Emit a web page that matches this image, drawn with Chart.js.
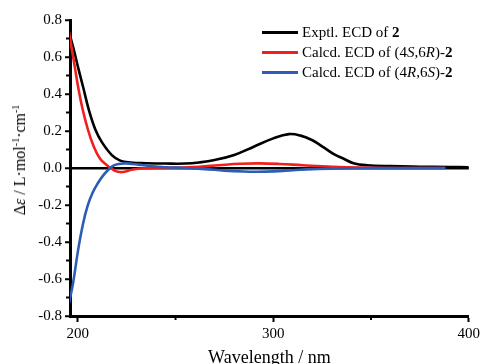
<!DOCTYPE html>
<html lang="en">
<head>
  <meta charset="UTF-8">
  <title>ECD spectra of 2</title>
  <script src="https://cdn.jsdelivr.net/npm/chart.js"></script>
  <style>
    html, body { margin: 0; padding: 0; background: #fff; }
    .wrap { position: relative; width: 483px; height: 364px; overflow: hidden; }
    .legend { position: absolute; left: 262px; top: 22px; font-family: "Liberation Serif", serif; font-size: 15px; color: #000; }
    .legend .row { display: flex; align-items: center; height: 20px; white-space: nowrap; }
    .legend .swatch { width: 36px; height: 3px; margin-right: 4px; }
    .ytitle {
      position: absolute; left: 20px; top: 160px;
      transform: translate(-50%, -50%) rotate(-90deg);
      font-family: "Liberation Serif", serif; font-size: 16px; white-space: nowrap; color: #000;
    }
    .ytitle sup { font-size: 10px; vertical-align: 6px; line-height: 0; }
  </style>
</head>
<body>
  <div class="wrap">
    <canvas id="ecd" width="483" height="364"></canvas>
    <div class="ytitle">&Delta;<i>&epsilon;</i> / L&middot;mol<sup>-1</sup>&middot;cm<sup>-1</sup></div>
    <div class="legend" id="legend"></div>
  </div>
  <script>
    // Exptl. ECD of 2
    const expWl  = [195.5, 197.8, 200.3, 202.9, 205.5, 208.9, 212.3, 217.4, 221.7, 227, 235, 245, 255, 262, 270, 280, 290, 300, 308, 314, 320, 326, 331, 336, 341, 348, 360, 375, 390, 400];
    const expVal = [0.735, 0.645, 0.537, 0.43, 0.32, 0.21, 0.14, 0.07, 0.04, 0.03, 0.026, 0.024, 0.024, 0.03, 0.043, 0.07, 0.115, 0.16, 0.183, 0.175, 0.15, 0.11, 0.075, 0.05, 0.026, 0.015, 0.01, 0.007, 0.005, 0.004];

    // Calcd. ECD of (4S,6R)-2
    const redWl  = [195.5, 196.9, 198.6, 200.3, 202.4, 205.1, 208, 211.4, 214.9, 217.4, 219.5, 221.5, 224, 227.5, 232, 238, 250, 262, 272, 283, 293, 303, 315, 330, 345, 360, 388];
    const redVal = [0.735, 0.645, 0.537, 0.43, 0.32, 0.21, 0.12, 0.05, 0.015, -0.004, -0.017, -0.022, -0.02, -0.01, -0.003, 0.0, 0.002, 0.007, 0.015, 0.023, 0.025, 0.022, 0.015, 0.007, 0.002, 0.0, 0.0];

    // Calcd. ECD of (4R,6S)-2
    const blueWl  = [195.5, 197.6, 200.2, 202.7, 205, 207.5, 210.4, 213, 216, 219, 224, 228, 232.7, 238, 244.6, 255, 265, 275, 285, 292, 300, 310, 320, 335, 350, 388];
    const blueVal = [-0.73, -0.62, -0.44, -0.30, -0.205, -0.135, -0.08, -0.04, -0.005, 0.017, 0.025, 0.022, 0.016, 0.009, 0.004, 0.0, -0.006, -0.014, -0.019, -0.02, -0.018, -0.012, -0.006, -0.002, 0.0, 0.0];

    const xMajor = [200, 300, 400];
    const xMinor = [250, 350];
    const yMinor = [-0.7, -0.5, -0.3, -0.1, 0.1, 0.3, 0.5, 0.7];

    const series = [
      { label: 'Exptl. ECD of <b>2</b>', wl: expWl, val: expVal, color: '#000000', order: 2 },
      { label: 'Calcd. ECD of (4<i>S</i>,6<i>R</i>)-<b>2</b>', wl: redWl, val: redVal, color: '#f0201e', order: 1 },
      { label: 'Calcd. ECD of (4<i>R</i>,6<i>S</i>)-<b>2</b>', wl: blueWl, val: blueVal, color: '#2c5db5', order: 0 }
    ];

    const toPoints = (xs, ys) => xs.map((x, i) => ({ x: x, y: ys[i] }));

    // small minor ticks drawn on the outside of the axes
    const minorTicks = {
      id: 'minorTicks',
      afterDraw(chart) {
        const ctx = chart.ctx;
        const xs = chart.scales.x, ys = chart.scales.y;
        const area = chart.chartArea;
        ctx.save();
        ctx.strokeStyle = '#000';
        ctx.lineWidth = 2;
        xMinor.forEach(v => {
          const px = xs.getPixelForValue(v);
          ctx.beginPath(); ctx.moveTo(px, area.bottom); ctx.lineTo(px, area.bottom + 4); ctx.stroke();
        });
        yMinor.forEach(v => {
          const py = ys.getPixelForValue(v);
          ctx.beginPath(); ctx.moveTo(area.left, py); ctx.lineTo(area.left - 4, py); ctx.stroke();
        });
        ctx.restore();
      }
    };

    Chart.defaults.font.family = "'Liberation Serif', 'Times New Roman', serif";
    Chart.defaults.color = '#000';

    new Chart(document.getElementById('ecd'), {
      type: 'line',
      data: {
        datasets: series.map(s => ({
          data: toPoints(s.wl, s.val),
          borderColor: s.color,
          borderWidth: 2.6,
          pointRadius: 0,
          fill: false,
          tension: 0.4,
          order: s.order
        }))
      },
      options: {
        responsive: false,
        animation: false,
        layout: { padding: { top: 20, right: 14, left: 0, bottom: 0 } },
        plugins: { legend: { display: false }, tooltip: { enabled: false } },
        scales: {
          x: {
            type: 'linear',
            min: 196,
            max: 400,
            afterBuildTicks: scale => { scale.ticks = xMajor.map(v => ({ value: v })); },
            afterFit: scale => { scale.height = 48; },
            border: { display: true, color: '#000', width: 3 },
            grid: { drawOnChartArea: false, drawTicks: true, tickLength: 6, tickWidth: 2, tickColor: '#000' },
            ticks: { color: '#000', font: { size: 15 }, padding: 3, maxRotation: 0 },
            title: {
              display: true, text: 'Wavelength / nm', color: '#000',
              font: { size: 18, lineHeight: 1 },
              padding: { top: 0, bottom: -3 }
            }
          },
          y: {
            min: -0.8,
            max: 0.8,
            afterFit: scale => { scale.width = 70; },
            border: { display: true, color: '#000', width: 3 },
            grid: {
              drawOnChartArea: true,
              color: c => (c.tick && Math.abs(c.tick.value) < 1e-9 ? '#000' : 'rgba(0,0,0,0)'),
              lineWidth: 2.5,
              tickLength: 5,
              tickWidth: 2,
              tickColor: '#000'
            },
            ticks: {
              stepSize: 0.2,
              color: '#000',
              font: { size: 15 },
              padding: 3,
              callback: v => v.toFixed(1)
            }
          }
        }
      },
      plugins: [minorTicks]
    });

    // legend with bold/italic parts
    const legendEl = document.getElementById('legend');
    series.forEach(s => {
      const row = document.createElement('div');
      row.className = 'row';
      row.innerHTML = `<span class="swatch" style="background:${s.color}"></span><span>${s.label}</span>`;
      legendEl.appendChild(row);
    });
  </script>
</body>
</html>
